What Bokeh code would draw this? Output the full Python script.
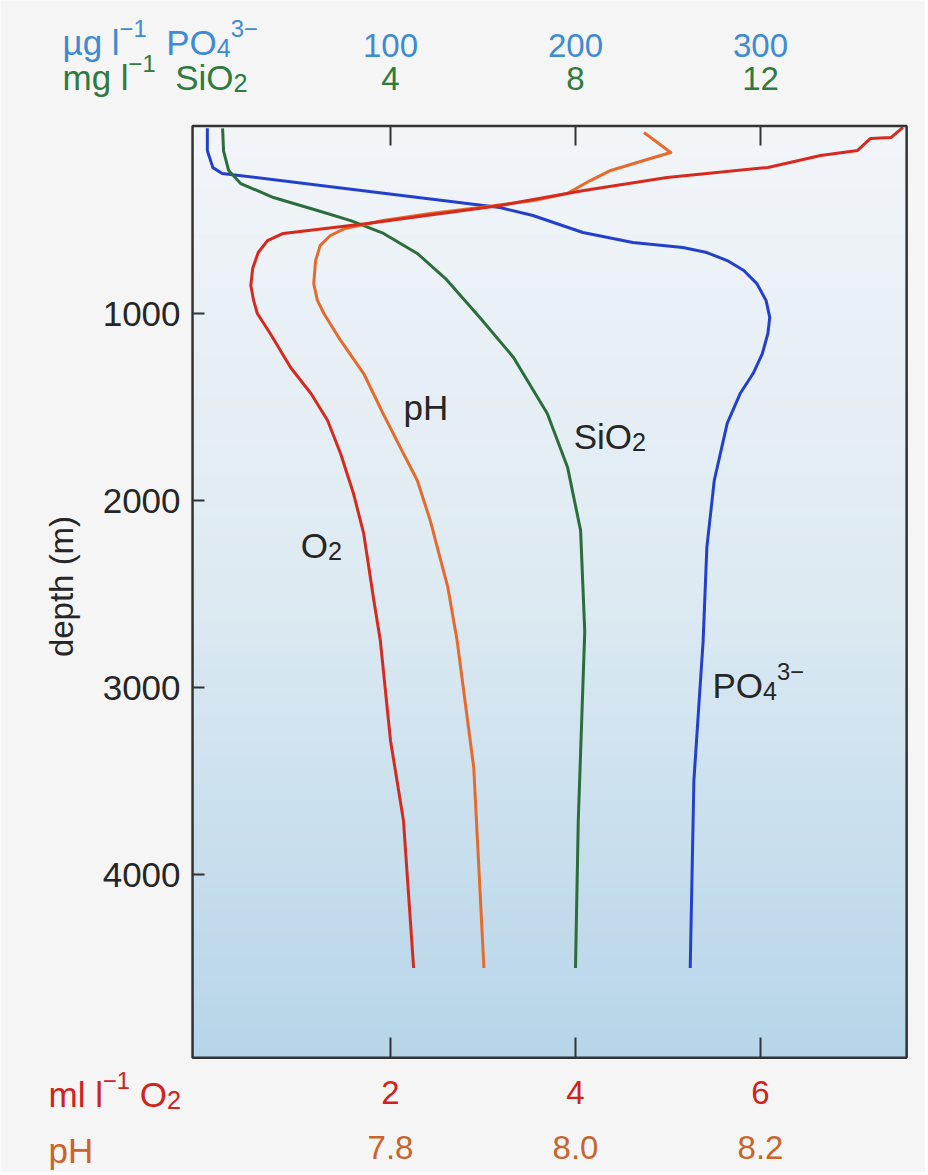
import numpy as np
from bokeh.plotting import figure
from bokeh.models import Range1d, LinearAxis, FixedTicker, PrintfTickFormatter, Label
from bokeh.embed import file_html
from bokeh.resources import INLINE

# ---------------- data ----------------
# dissolved oxygen, ml l-1
o2_depth = [5, 59, 64, 128, 155, 219, 273, 342, 422, 519, 572, 610, 674, 759, 850, 930, 1000,
            1107, 1289, 1428, 1572, 1749, 1963, 2176, 2535, 2749, 3283, 3711, 4500]
o2_vals = [7.54, 7.41, 7.19, 7.05, 6.65, 6.08, 4.99, 4.09, 3.19, 1.75, 0.84, 0.67, 0.57, 0.51, 0.49, 0.52, 0.56,
           0.70, 0.92, 1.14, 1.32, 1.46, 1.60, 1.71, 1.82, 1.89, 2.00, 2.14, 2.25]

# pH
ph_depth = [32, 139, 171, 235, 289, 358, 396, 433, 465, 503, 545, 583, 636, 717, 840, 930, 1000,
            1144, 1321, 1535, 1749, 1893, 2107, 2465, 2749, 3428, 4500]
ph_vals = [8.074, 8.103, 8.081, 8.038, 8.016, 7.991, 7.955, 7.897, 7.843, 7.792, 7.751, 7.735, 7.724, 7.719,
           7.717, 7.721, 7.728, 7.746, 7.771, 7.792, 7.814, 7.829, 7.843, 7.862, 7.872, 7.890, 7.901]

# silica, mg l-1
sio2_depth = [10, 130, 235, 305, 380, 449, 503, 572, 679, 813, 1027, 1235, 1535, 1824, 2160, 2700, 3711, 4500]
sio2_vals = [0.37, 0.39, 0.50, 0.76, 1.47, 2.42, 3.14, 3.85, 4.58, 5.19, 5.95, 6.66, 7.39, 7.83, 8.11, 8.20, 8.06, 8.00]

# phosphate, ug l-1
po4_depth = [10, 130, 220, 251, 340, 433, 476, 567, 620, 647, 674, 717, 770, 840, 930, 1021, 1107, 1214,
             1321, 1428, 1588, 1893, 2251, 2749, 3497, 4500]
po4_vals = [1, 1, 4, 9, 82, 159, 177, 204, 231, 258, 271, 282, 291, 298, 303, 305, 304, 301,
            296, 289, 282, 275, 271, 269, 264, 262]

# tick values
o2_ticks = [2, 4, 6]
ph_ticks = [7.8, 8.0, 8.2]
sio2_ticks = [4, 8, 12]
po4_ticks = [100, 200, 300]
depth_ticks = [1000, 2000, 3000, 4000]

# ---------------- scales ----------------
W, H = 925, 1172
O2_ZERO_PX, PX_PER_O2 = 205.0, 92.5      # screen calibration of the O2 scale
DEPTH_ZERO_PX, PX_PER_M = 126.0, 0.187   # screen calibration of the depth scale
XL, XR = -O2_ZERO_PX / PX_PER_O2, (W - O2_ZERO_PX) / PX_PER_O2
DT, DB = -DEPTH_ZERO_PX / PX_PER_M, (H - DEPTH_ZERO_PX) / PX_PER_M

X0, X1 = -0.14, 7.58          # plot box, O2 units
D_TOP, D_BOT = -3, 4980       # plot box, depth


def to_ph(v):
    return 7.6 + 0.1 * v


def to_sio2(v):
    return 2.0 * v


def to_po4(v):
    return 50.0 * v


FONT = "Liberation Sans"
DARK = "#262626"
C_O2 = "#d62a1e"
C_PH = "#e66a2c"
C_SI = "#2b6d3b"
C_PO4 = "#2340cc"
T_PO4 = "#3d8ad6"
T_SI = "#2f7a3e"
T_O2 = "#d2221c"
T_PH = "#c8642c"
PAGE = "#f5f5f5"

p = figure(width=W, height=H,
           x_range=Range1d(XL, XR), y_range=Range1d(DB, DT),
           x_axis_location=None, y_axis_location="left",
           output_backend="svg", toolbar_location=None)
p.min_border = 0
p.min_border_left = 0
p.min_border_right = 0
p.min_border_top = 0
p.min_border_bottom = 0

p.extra_x_ranges = {
    "ph": Range1d(to_ph(XL), to_ph(XR)),
    "sio2": Range1d(to_sio2(XL), to_sio2(XR)),
    "po4": Range1d(to_po4(XL), to_po4(XR)),
}

p.border_fill_color = PAGE
p.background_fill_color = PAGE
p.outline_line_color = None
p.grid.visible = False

# background gradient of the plot box (light at the surface, bluer with depth)
n_bands = 120
edges = np.linspace(D_TOP, D_BOT, n_bands + 1)
stops_t = [0.0, 0.5, 1.0]
stops_c = np.array([[242, 245, 248], [221, 234, 242], [182, 213, 233]], dtype=float)
band_colors = []
for i in range(n_bands):
    t = (i + 0.5) / n_bands
    rgb = [np.interp(t, stops_t, stops_c[:, k]) for k in range(3)]
    band_colors.append("#%02x%02x%02x" % tuple(int(round(c)) for c in rgb))
p.quad(left=X0, right=X1, top=edges[:-1], bottom=edges[1:], fill_color=band_colors,
       line_color=band_colors, line_width=1)

# ---------------- profiles ----------------
p.line(x=po4_vals, y=po4_depth, x_range_name="po4", line_color=C_PO4, line_width=3, line_join="round")
p.line(x=sio2_vals, y=sio2_depth, x_range_name="sio2", line_color=C_SI, line_width=3, line_join="round")
p.line(x=ph_vals, y=ph_depth, x_range_name="ph", line_color=C_PH, line_width=3, line_join="round")
p.line(x=o2_vals, y=o2_depth, line_color=C_O2, line_width=3, line_join="round")

# plot box outline
p.quad(left=X0, right=X1, top=D_TOP, bottom=D_BOT, fill_color=None,
       line_color="#333333", line_width=2.5)

# ---------------- axes ----------------
yax = p.yaxis[0]
yax.fixed_location = X0
yax.ticker = FixedTicker(ticks=depth_ticks)
yax.axis_line_color = None
yax.major_tick_in = 12
yax.major_tick_out = 0
yax.major_tick_line_width = 2
yax.major_tick_line_color = "#333333"
yax.minor_tick_line_color = None
yax.major_label_standoff = 12
yax.major_label_text_font = FONT
yax.major_label_text_font_size = "35px"
yax.major_label_text_color = DARK
yax.axis_label = "depth (m)"
yax.axis_label_text_font = FONT
yax.axis_label_text_font_size = "33px"
yax.axis_label_text_font_style = "normal"
yax.axis_label_text_color = DARK
yax.axis_label_standoff = 20


def make_axis(ticks, color, range_name, loc, fmt=None, ticks_visible=False, standoff=18):
    ax = LinearAxis(x_range_name=range_name, ticker=FixedTicker(ticks=ticks), fixed_location=loc)
    if fmt is not None:
        ax.formatter = PrintfTickFormatter(format=fmt)
    ax.axis_line_color = None
    ax.minor_tick_line_color = None
    ax.major_tick_out = 0
    if ticks_visible:
        ax.major_tick_in = 20
        ax.major_tick_line_width = 2
        ax.major_tick_line_color = "#333333"
    else:
        ax.major_tick_in = 0
        ax.major_tick_line_color = None
    ax.major_label_standoff = standoff
    ax.major_label_text_font = FONT
    ax.major_label_text_font_size = "33px"
    ax.major_label_text_color = color
    return ax


p.add_layout(make_axis(o2_ticks, T_O2, "default", D_BOT, ticks_visible=True, standoff=23), "below")
p.add_layout(make_axis(ph_ticks, T_PH, "ph", D_BOT, fmt="%.1f", standoff=78), "below")
p.add_layout(make_axis(sio2_ticks, T_SI, "sio2", D_TOP, ticks_visible=True, standoff=36), "above")
p.add_layout(make_axis(po4_ticks, T_PO4, "po4", D_TOP, standoff=69), "above")

# ---------------- texts (with sub/superscripts) ----------------
ADV = {' ': 278, 'µ': 576, 'g': 556, 'l': 222, 'm': 833, 'P': 667, 'O': 778, 'S': 667,
       'i': 222, 'H': 722, 'p': 556, '−': 584}


def text_width(s, size):
    return sum(ADV.get(ch, 556) for ch in s) / 1000.0 * size


def rich_text(x, y, parts, color, size):
    off = 0.0
    for txt, kind in parts:
        if kind == "sub":
            fs, dy = size * 0.72, -0.16 * size
        elif kind == "sup":
            fs, dy = size * 0.68, 0.40 * size
        else:
            fs, dy = size, 0.0
        stripped = txt.strip()
        lead = text_width(txt[:len(txt) - len(txt.lstrip())], fs)
        if stripped:
            p.add_layout(Label(x=x, y=y, x_offset=off + lead, y_offset=dy, text=stripped,
                               text_color=color, text_font=FONT, text_font_size="%.1fpx" % fs,
                               text_align="left", text_baseline="alphabetic"))
        off += text_width(txt, fs)


# axis titles
rich_text(-1.546, -449, [("µg l", "n"), ("−1", "sup"), ("  PO", "n"), ("4", "sub"), ("3−", "sup")], T_PO4, 35)
rich_text(-1.546, -262, [("mg l", "n"), ("−1", "sup"), ("  SiO", "n"), ("2", "sub")], T_SI, 35)
rich_text(-1.697, 5177, [("ml l", "n"), ("−1", "sup"), (" O", "n"), ("2", "sub")], T_O2, 35)
rich_text(-1.697, 5476, [("pH", "n")], T_PH, 35)

# curve labels
rich_text(2.14, 1503, [("pH", "n")], DARK, 35)
rich_text(3.98, 1658, [("SiO", "n"), ("2", "sub")], DARK, 35)
rich_text(1.03, 2241, [("O", "n"), ("2", "sub")], DARK, 35)
rich_text(5.48, 2989, [("PO", "n"), ("4", "sub"), ("3−", "sup")], DARK, 35)

open("out.html", "w").write(file_html(p, INLINE))
